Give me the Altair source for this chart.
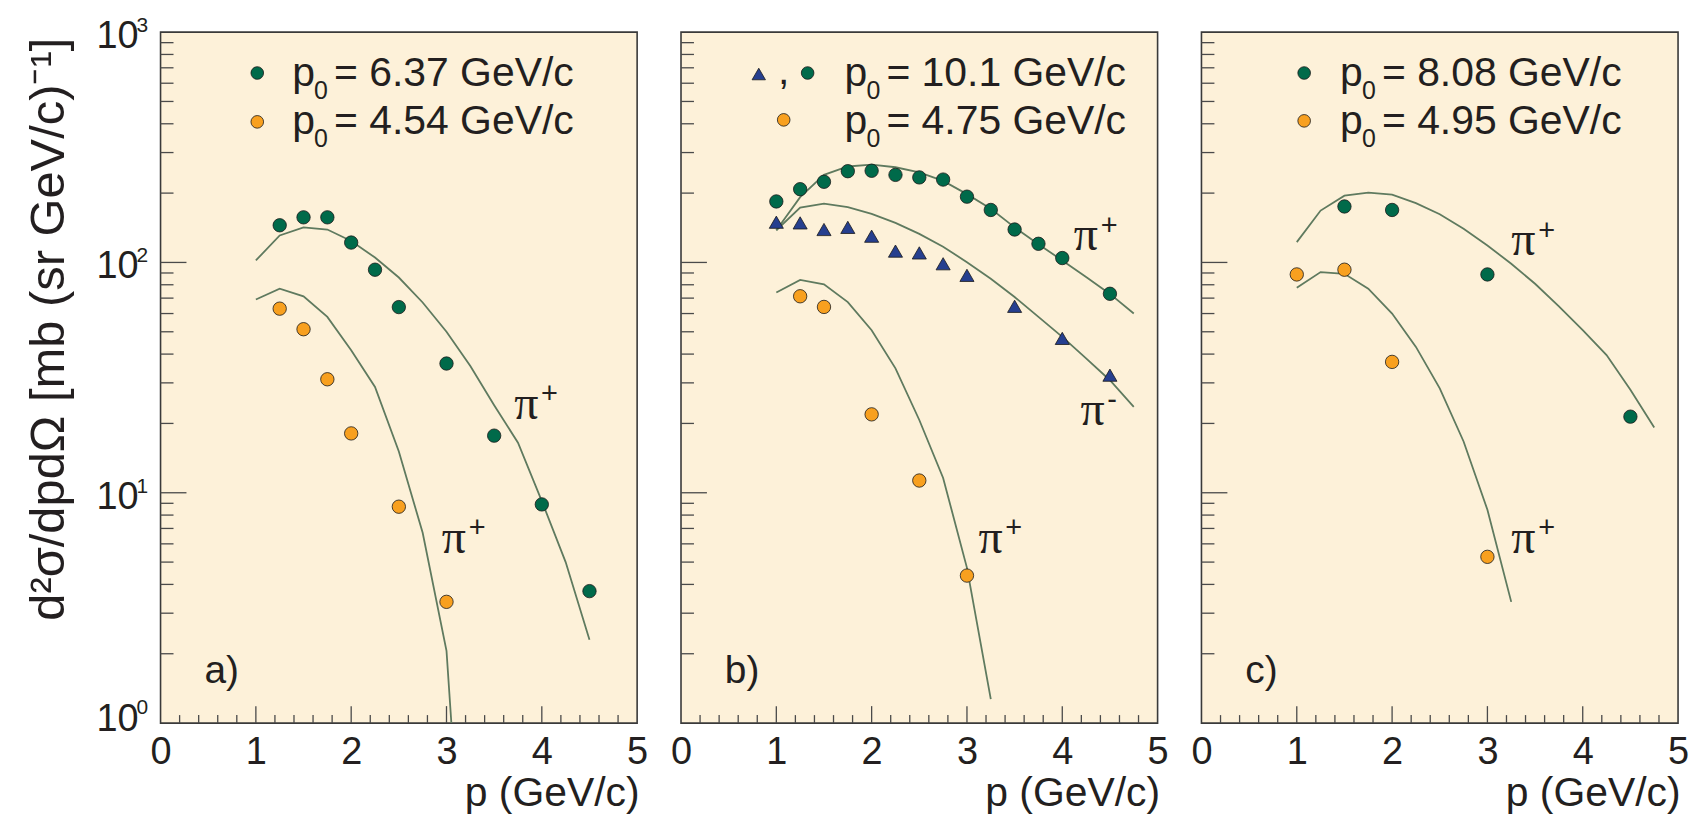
import altair as alt
import pandas as pd

# ---------------- data ----------------
STEP_P = [1.0, 1.25, 1.5, 1.75, 2.0, 2.25, 2.5, 2.75, 3.0, 3.25, 3.5, 3.75, 4.0, 4.25, 4.5, 4.75]

# panel a
A_GREEN_P = [1.25, 1.5, 1.75, 2.0, 2.25, 2.5, 3.0, 3.5, 4.0, 4.5]
A_GREEN_V = [145, 157, 157, 122, 93, 64, 36.4, 17.7, 8.9, 3.74]
A_ORANGE_P = [1.25, 1.5, 1.75, 2.0, 2.5, 3.0]
A_ORANGE_V = [63, 51.3, 31.1, 18.1, 8.7, 3.36]
A_CURVE1_P = [1.0, 1.25, 1.5, 1.75, 2.0, 2.25, 2.5, 2.75, 3.0, 3.25, 3.5, 3.75, 4.0, 4.25, 4.5]
A_CURVE1_V = [102, 131, 142, 139, 124, 105, 86, 67, 50, 35.5, 24, 16.5, 9.2, 5.0, 2.3]
A_CURVE2_P = [1.0, 1.25, 1.5, 1.75, 2.0, 2.25, 2.5, 2.75, 3.0, 3.1]
A_CURVE2_V = [69, 77, 71.3, 58, 41.6, 28.8, 15.1, 6.7, 2.06, 0.5]

# panel b
B_GREEN_P = [1.0, 1.25, 1.5, 1.75, 2.0, 2.25, 2.5, 2.75, 3.0, 3.25, 3.5, 3.75, 4.0, 4.5]
B_GREEN_V = [184, 208, 224, 249, 250, 240, 234, 229, 193, 169, 139, 120.5, 104.5, 73.1]
B_BLUE_P = [1.0, 1.25, 1.5, 1.75, 2.0, 2.25, 2.5, 2.75, 3.0, 3.5, 4.0, 4.5]
B_BLUE_V = [149.5, 148.5, 139, 142, 130, 112, 110, 98.7, 87.9, 64.5, 46.8, 32.4]
B_ORANGE_P = [1.25, 1.5, 2.0, 2.5, 3.0]
B_ORANGE_V = [71.3, 64.1, 21.9, 11.3, 4.37]
B_CURVE1_P = STEP_P
B_CURVE1_V = [138, 192, 240, 261, 266, 259, 246, 226, 198, 171, 142, 120, 102, 86.4, 73, 60]
B_CURVE2_P = STEP_P
B_CURVE2_V = [138, 173, 180, 174, 162.5, 148.6, 133, 117, 100.3, 85, 70.8, 58, 47.5, 38.3, 30.8, 23.6]
B_CURVE3_P = [1.0, 1.25, 1.5, 1.75, 2.0, 2.25, 2.5, 2.75, 3.0, 3.25]
B_CURVE3_V = [74, 84, 80.3, 67.3, 50.8, 34.7, 20.7, 11.6, 4.72, 1.27]

# panel c
C_GREEN_P = [1.5, 2.0, 3.0, 4.5]
C_GREEN_V = [175, 169, 88.7, 21.4]
C_ORANGE_P = [1.0, 1.5, 2.0, 3.0]
C_ORANGE_V = [88.7, 93, 37, 5.27]
C_CURVE1_P = STEP_P
C_CURVE1_V = [122.5, 168, 195, 201, 197, 181, 162, 140, 118.5, 98.7, 80.8, 64.5, 50.8, 39.6, 28, 19.2]
C_CURVE2_P = [1.0, 1.25, 1.5, 1.75, 2.0, 2.25, 2.5, 2.75, 3.0, 3.25]
C_CURVE2_V = [77.7, 90.8, 89.3, 76.9, 60, 43, 28.4, 16.7, 8.44, 3.36]

# curve labels (pi) : position of the pi glyph, charge sign
A_PI_P, A_PI_V, A_PI_S = [3.71, 2.95], [20.9, 5.5], ["+", "+"]
B_PI_P, B_PI_V, B_PI_S = [4.12, 4.19, 3.12], [112.7, 19.7, 5.5], ["+", "-", "+"]
C_PI_P, C_PI_V, C_PI_S = [3.25, 3.25], [107.2, 5.5], ["+", "+"]

PANEL_LETTERS = ["a)", "b)", "c)"]
LETTER_P, LETTER_V = 0.46, 1.5

LEGEND_A = ["6.37 GeV/c", "4.54 GeV/c"]
LEGEND_B = ["10.1 GeV/c", "4.75 GeV/c"]
LEGEND_C = ["8.08 GeV/c", "4.95 GeV/c"]

X_TICK_LABELS = [0, 1, 2, 3, 4, 5]
Y_EXPONENTS = [0, 1, 2, 3]

# ---------------- style ----------------
FONT = "Liberation Sans"
SERIF = "Liberation Serif"
TXT = "#231f20"
GREEN = "#006a4a"
ORANGE = "#f8a01f"
BLUE = "#263f8f"
CURVE = "#5f7a5f"
TICK = "#4a4a4a"
BG = "#fdf1d9"
W, H = 478, 693

XS = alt.Scale(domain=[0, 5], nice=False, zero=False)
YS = alt.Scale(type="log", domain=[1, 1000], nice=False)
X_AXIS = alt.Axis(
    values=X_TICK_LABELS, ticks=False, domain=False, grid=False,
    labelFont=FONT, labelFontSize=38, labelColor=TXT, labelPadding=11,
    labelFlush=False, labelOverlap=False,
    title="p (GeV/c)", titleFont=FONT, titleFontSize=41, titleFontWeight="normal",
    titleColor=TXT, titleAnchor="end", titleAlign="right", titleBaseline="alphabetic",
    titleX=W + 2, titleY=83,
)

ONE = pd.DataFrame({"k": [0]})


def df(p, v):
    return pd.DataFrame({"p": p, "v": v})


def X(f="p"):
    return alt.X(f"{f}:Q", scale=XS, axis=X_AXIS)


def Y(f="v"):
    return alt.Y(f"{f}:Q", scale=YS, axis=None)


def ticks():
    xmaj = pd.DataFrame({"t": [1, 2, 3, 4]})
    xmin = pd.DataFrame({"t": [i / 5 for i in range(1, 25) if i % 5]})
    ymaj = pd.DataFrame({"t": [10, 100]})
    ymin = pd.DataFrame({"t": [m * 10 ** e for e in (0, 1, 2) for m in range(2, 10)]})
    r = dict(color=TICK, strokeWidth=1.3)
    return [
        alt.Chart(xmaj).mark_rule(**r).encode(x=X("t"), y=alt.value(H), y2=alt.value(H - 17)),
        alt.Chart(xmin).mark_rule(**r).encode(x=X("t"), y=alt.value(H), y2=alt.value(H - 8)),
        alt.Chart(ymaj).mark_rule(**r).encode(y=Y("t"), x=alt.value(0), x2=alt.value(26)),
        alt.Chart(ymin).mark_rule(**r).encode(y=Y("t"), x=alt.value(0), x2=alt.value(13)),
    ]


def curve(p, v):
    return alt.Chart(df(p, v)).mark_line(color=CURVE, strokeWidth=1.8, clip=True).encode(x=X(), y=Y())


def pts(p, v, color, shape="circle", size=180):
    return alt.Chart(df(p, v)).mark_point(
        filled=True, shape=shape, size=size, fill=color, stroke="#1b1b1b",
        strokeWidth=0.8, opacity=1,
    ).encode(x=X(), y=Y())


def pi_labels(p, v, s):
    d = pd.DataFrame({"p": p, "v": v, "s": s})
    base = alt.Chart(d)
    return [
        base.mark_text(text="\u03c0", font=SERIF, fontSize=48, color=TXT, align="left",
                       baseline="alphabetic").encode(x=X(), y=Y()),
        base.mark_text(font=FONT, fontSize=29, color=TXT, align="left", baseline="alphabetic",
                       dx=27, dy=-16).encode(x=X(), y=Y(), text="s:N"),
    ]


def letter(t):
    d = pd.DataFrame({"p": [LETTER_P], "v": [LETTER_V]})
    return alt.Chart(d).mark_text(text=t, font=FONT, fontSize=39, color=TXT, align="left",
                                  baseline="alphabetic").encode(x=X(), y=Y())


def txt(s, x, y, size=41, font=FONT, **kw):
    return alt.Chart(ONE).mark_text(text=s, font=font, fontSize=size, color=TXT,
                                    baseline="alphabetic", **kw).encode(
        x=alt.value(x), y=alt.value(y))


def marker(x, y, color, shape="circle", size=160):
    return alt.Chart(ONE).mark_point(filled=True, shape=shape, size=size, fill=color,
                                     stroke="#1b1b1b", strokeWidth=0.8, opacity=1).encode(
        x=alt.value(x), y=alt.value(y))


def legend_row(xp, base_y, value):
    return [
        txt("p", xp, base_y, align="left"),
        txt("0", xp + 22, base_y + 13, size=25, align="left"),
        txt("= " + value, xp + 42, base_y, align="left"),
    ]


ROW1, ROW2 = 54, 102

# ---------- panel a ----------
ylab = pd.DataFrame({"e": Y_EXPONENTS, "v": [10 ** e for e in Y_EXPONENTS]})
ylab_top = ylab[ylab.e > 0]
ylab_bot = ylab[ylab.e == 0]
ylabels = [
    alt.Chart(ylab_top).mark_text(text="10", font=FONT, fontSize=38, color=TXT, align="right",
                                  baseline="alphabetic", dy=16).encode(x=alt.value(-22), y=Y()),
    alt.Chart(ylab_top).mark_text(font=FONT, fontSize=21, color=TXT, align="left",
                                  baseline="alphabetic", dy=0).encode(x=alt.value(-24), y=Y(), text="e:N"),
    alt.Chart(ylab_bot).mark_text(text="10", font=FONT, fontSize=38, color=TXT, align="right",
                                  baseline="alphabetic", dy=8).encode(x=alt.value(-22), y=Y()),
    alt.Chart(ylab_bot).mark_text(font=FONT, fontSize=21, color=TXT, align="left",
                                  baseline="alphabetic", dy=-9).encode(x=alt.value(-24), y=Y(), text="e:N"),
]
ytitle = txt("d\u00b2\u03c3/dpd\u03a9  [mb (sr GeV/c)\u207b\u00b9]", -97, 298, size=49,
             align="center", angle=270)

panel_a = alt.layer(
    *ticks(),
    curve(A_CURVE1_P, A_CURVE1_V), curve(A_CURVE2_P, A_CURVE2_V),
    pts(A_GREEN_P, A_GREEN_V, GREEN), pts(A_ORANGE_P, A_ORANGE_V, ORANGE),
    *pi_labels(A_PI_P, A_PI_V, A_PI_S), letter(PANEL_LETTERS[0]),
    marker(97, 41, GREEN), *legend_row(132, ROW1, LEGEND_A[0]),
    marker(97, 90, ORANGE), *legend_row(132, ROW2, LEGEND_A[1]),
    *ylabels, ytitle,
).properties(width=W, height=H)

# ---------- panel b ----------
panel_b = alt.layer(
    *ticks(),
    curve(B_CURVE1_P, B_CURVE1_V), curve(B_CURVE2_P, B_CURVE2_V), curve(B_CURVE3_P, B_CURVE3_V),
    pts(B_GREEN_P, B_GREEN_V, GREEN), pts(B_BLUE_P, B_BLUE_V, BLUE, shape="triangle-up", size=200),
    pts(B_ORANGE_P, B_ORANGE_V, ORANGE),
    *pi_labels(B_PI_P, B_PI_V, B_PI_S), letter(PANEL_LETTERS[1]),
    marker(78, 42, BLUE, shape="triangle-up", size=180), txt(",", 103, 52, align="center"),
    marker(127, 41, GREEN), *legend_row(164, ROW1, LEGEND_B[0]),
    marker(103, 88, ORANGE), *legend_row(164, ROW2, LEGEND_B[1]),
).properties(width=W, height=H)

# ---------- panel c ----------
panel_c = alt.layer(
    *ticks(),
    curve(C_CURVE1_P, C_CURVE1_V), curve(C_CURVE2_P, C_CURVE2_V),
    pts(C_GREEN_P, C_GREEN_V, GREEN), pts(C_ORANGE_P, C_ORANGE_V, ORANGE),
    *pi_labels(C_PI_P, C_PI_V, C_PI_S), letter(PANEL_LETTERS[2]),
    marker(103, 41, GREEN), *legend_row(139, ROW1, LEGEND_C[0]),
    marker(103, 89, ORANGE), *legend_row(139, ROW2, LEGEND_C[1]),
).properties(width=W, height=H)

chart = alt.HConcatChart(
    hconcat=[panel_a, panel_b, panel_c], spacing=44, bounds="flush",
    background="white",
    padding={"left": 16, "top": 5, "right": 5, "bottom": 0},
).configure_view(fill=BG, stroke="#3a3a3a", strokeWidth=1.6)

chart.save("out.html", embed_options={"renderer": "svg", "actions": False})
